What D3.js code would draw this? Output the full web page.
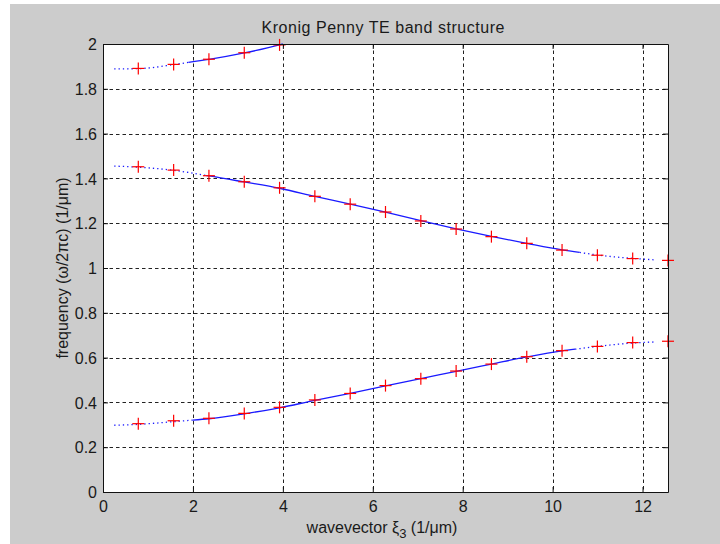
<!DOCTYPE html>
<html><head><meta charset="utf-8">
<script src="https://cdn.jsdelivr.net/npm/d3@7"></script>
<style>body{margin:0;background:#fff}svg{display:block}text{font-family:"Liberation Sans",Arial,sans-serif;fill:#1a1a1a}</style>
</head><body><svg id="c" width="720" height="544"></svg>
<script>
const title = "Kronig Penny TE band structure";
const xTicks = [0, 2, 4, 6, 8, 10, 12];
const yTicks = [0, 0.2, 0.4, 0.6, 0.8, 1, 1.2, 1.4, 1.6, 1.8, 2];
// sampled wavevectors (k*pi/4)
const markerX = [0.785, 1.571, 2.356, 3.142, 3.927, 4.712, 5.498, 6.283, 7.069, 7.854, 8.639, 9.425, 10.21, 10.996, 11.781, 12.566];
const band1Markers = [0.305, 0.318, 0.329, 0.351, 0.378, 0.411, 0.440, 0.475, 0.506, 0.540, 0.571, 0.604, 0.631, 0.650, 0.667, 0.673];
const band2Markers = [1.452, 1.437, 1.412, 1.385, 1.358, 1.320, 1.285, 1.250, 1.210, 1.174, 1.140, 1.110, 1.080, 1.057, 1.042, 1.034];
const band3Markers = [1.891, 1.909, 1.932, 1.961, 1.996];
// continuous curves
const curveX = [0.25, 0.785, 1.571, 2.356, 3.142, 3.927, 4.712, 5.498, 6.283, 7.069, 7.854, 8.639, 9.425, 10.21, 10.996, 11.781, 12.3];
const band1Curve = [0.298, 0.302, 0.314, 0.327, 0.349, 0.376, 0.409, 0.440, 0.474, 0.506, 0.539, 0.571, 0.603, 0.630, 0.650, 0.665, 0.670];
const band2Curve = [1.455, 1.450, 1.436, 1.411, 1.384, 1.356, 1.320, 1.285, 1.249, 1.211, 1.175, 1.141, 1.110, 1.081, 1.058, 1.043, 1.036];
const band3CurveX = [0.25, 0.785, 1.571, 2.356, 3.142, 3.927, 4.0];
const band3Curve = [1.889, 1.890, 1.908, 1.931, 1.960, 1.996, 2.0];

const svg = d3.select("#c");
svg.append("rect").attr("x",10).attr("y",4).attr("width",710).attr("height",540).attr("fill","#cccccc");
const L=103,R=668,T=44,B=492;
const x = d3.scaleLinear().domain([0, 4*Math.PI]).range([L,R]);
const y = d3.scaleLinear().domain([0,2]).range([B,T]);
svg.append("rect").attr("x",L).attr("y",T).attr("width",R-L).attr("height",B-T).attr("fill","#fff");
const g = svg.append("g");
// grid
g.selectAll(".gx").data(xTicks.filter(d=>d>0)).join("line")
 .attr("x1",d=>Math.round(x(d))+0.5).attr("x2",d=>Math.round(x(d))+0.5).attr("y1",T).attr("y2",B)
 .attr("stroke","#222").attr("stroke-dasharray","3.5,3").attr("stroke-width",1);
g.selectAll(".gy").data(yTicks.filter(d=>d>0&&d<2)).join("line")
 .attr("y1",d=>Math.round(y(d))+0.5).attr("y2",d=>Math.round(y(d))+0.5).attr("x1",L).attr("x2",R)
 .attr("stroke","#222").attr("stroke-dasharray","3.5,3").attr("stroke-width",1);
// axes with inward ticks
const fmt = d=>String(+d.toFixed(1));
const ax = svg.append("g").attr("transform",`translate(0,${B})`).call(d3.axisBottom(x).tickValues(xTicks).tickFormat(fmt).tickSizeInner(-5).tickSizeOuter(0).tickPadding(8));
const ay = svg.append("g").attr("transform",`translate(${L},0)`).call(d3.axisLeft(y).tickValues(yTicks).tickFormat(fmt).tickSizeInner(-5).tickSizeOuter(0).tickPadding(6));
const axT = svg.append("g").attr("transform",`translate(0,${T})`).call(d3.axisTop(x).tickValues(xTicks).tickFormat("").tickSizeInner(-5).tickSizeOuter(0));
const ayR = svg.append("g").attr("transform",`translate(${R},0)`).call(d3.axisRight(y).tickValues(yTicks).tickFormat("").tickSizeInner(-5).tickSizeOuter(0));
[ax,ay,axT,ayR].forEach(a=>{a.select(".domain").attr("stroke","#111");a.selectAll(".tick line").attr("stroke","#111");a.selectAll("text").style("font-size","16px").attr("fill","#1a1a1a").style("font-family",'"Liberation Sans",Arial,sans-serif');});
ax.selectAll("text").attr("dy","0.75em");
ay.selectAll("text").attr("dy","0.36em");
// curves
const line = d3.line().x(d=>x(d[0])).y(d=>y(d[1])).curve(d3.curveMonotoneX);
function drawBand(xs, ys, dotA, dotB){
  const pts = xs.map((v,i)=>[v,ys[i]]);
  const interp = (xv)=>{ for(let i=0;i<pts.length-1;i++){ if(xv>=pts[i][0]&&xv<=pts[i+1][0]){const t=(xv-pts[i][0])/(pts[i+1][0]-pts[i][0]);return [xv,pts[i][1]+t*(pts[i+1][1]-pts[i][1])];}} return null; };
  const seg=(a,b)=>{const s=[interp(a)];pts.forEach(p=>{if(p[0]>a&&p[0]<b)s.push(p);});const e=interp(b);if(e)s.push(e);return s;};
  const last = pts[pts.length-1][0];
  g.append("path").attr("d",line(seg(pts[0][0],dotA))).attr("fill","none").attr("stroke","#1a1aff").attr("stroke-width",1.3).attr("stroke-dasharray","1.3,3");
  g.append("path").attr("d",line(seg(dotA,Math.min(dotB,last)))).attr("fill","none").attr("stroke","#1a1aff").attr("stroke-width",1.3);
  if(dotB<last) g.append("path").attr("d",line(seg(dotB,last))).attr("fill","none").attr("stroke","#1a1aff").attr("stroke-width",1.3).attr("stroke-dasharray","1.3,3");
}
drawBand(curveX, band1Curve, 2.0, 10.5);
drawBand(curveX, band2Curve, 2.3, 10.6);
drawBand(band3CurveX, band3Curve, 1.9, 99);
// markers
function marks(xs, ys){
  const m = g.append("g");
  xs.forEach((v,i)=>{ if(ys[i]===undefined) return;
    const cx=x(v), cy=y(ys[i]);
    m.append("line").attr("x1",cx-6).attr("x2",cx+6).attr("y1",cy).attr("y2",cy).attr("stroke","#ff0000").attr("stroke-width",1.2);
    m.append("line").attr("x1",cx).attr("x2",cx).attr("y1",cy-6).attr("y2",cy+6).attr("stroke","#ff0000").attr("stroke-width",1.2);
  });
}
marks(markerX, band1Markers);
marks(markerX, band2Markers);
marks(markerX.slice(0,band3Markers.length), band3Markers);
// texts
svg.append("text").attr("x",383).attr("y",33).attr("text-anchor","middle").style("font-size","16px")
  .attr("textLength",243).attr("lengthAdjust","spacing").text(title);
const xl = svg.append("text").attr("x",382).attr("y",533).attr("text-anchor","middle").style("font-size","16px");
xl.append("tspan").text("wavevector ξ");
xl.append("tspan").attr("dy",5).style("font-size","13px").text("3");
xl.append("tspan").attr("dy",-5).text(" (1/μm)");
svg.append("text").attr("transform",`translate(68,${(T+B)/2}) rotate(-90)`).attr("text-anchor","middle").style("font-size","16px").text("frequency (ω/2πc) (1/μm)");
</script></body></html>
